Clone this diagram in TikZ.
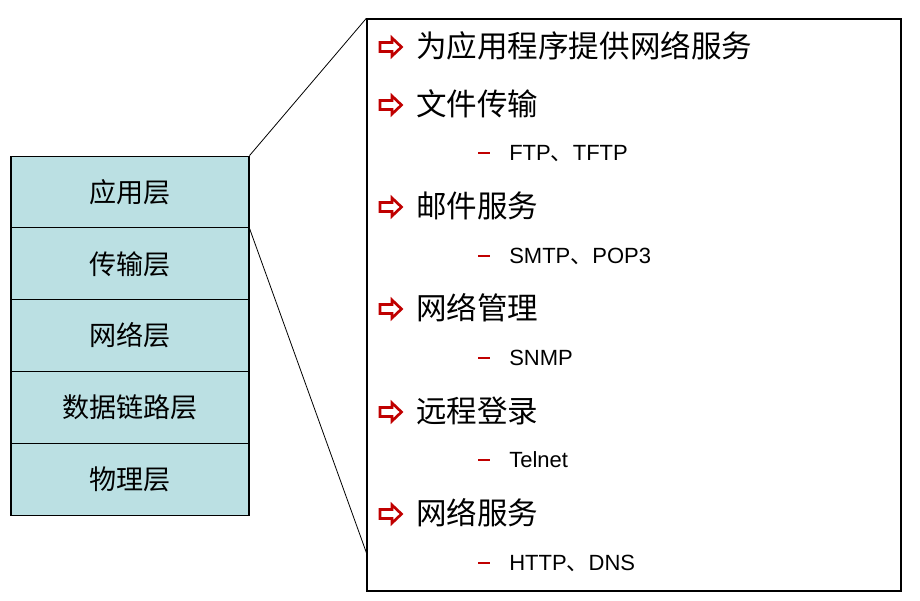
\documentclass[tikz,border=0pt]{standalone}
\usepackage{fontspec}
\setmainfont{Liberation Sans}
\newfontfamily\cjk{Noto Sans CJK SC}
\definecolor{layerfill}{RGB}{187,224,227}
\definecolor{bulletred}{RGB}{192,0,0}
\tikzset{
  layerbox/.style={draw=black, line width=0.8pt, fill=layerfill, minimum width=178.5pt, minimum height=53.85pt, inner sep=0pt, font=\cjk\fontsize{20.3pt}{24pt}\selectfont},
  mainitem/.style={anchor=base west, inner sep=0pt, font=\cjk\fontsize{22.9pt}{27pt}\selectfont},
  subitem/.style={anchor=base west, inner sep=0pt, font=\fontsize{16.5pt}{19pt}\selectfont},
  zoomline/.style={draw=black, line width=0.6pt},
  rarrow/.pic={\draw[bulletred, line width=2pt, fill=white, line join=miter, miter limit=3]
      (-11,-4.5) -- (1,-4.5) -- (1,-9) -- (10.5,0) -- (1,9) -- (1,4.5) -- (-11,4.5) -- cycle;},
  rdash/.pic={\draw[bulletred, line width=1.6pt] (-6,0) -- (6,0);}
}
\begin{document}
\begin{tikzpicture}[x=0.75pt, y=-0.75pt]
\useasboundingbox (0,0) rectangle (920,600);
% layer stack
\node[layerbox] (app) at (130,192) {应用层};
\node[layerbox] (trans) at (130,263.8) {传输层};
\node[layerbox] (net) at (130,335.6) {网络层};
\node[layerbox] (link) at (130,407.4) {数据链路层};
\node[layerbox] (phy) at (130,479.2) {物理层};
% detail box
\node[draw=black, line width=1pt, minimum width=400.5pt, minimum height=429pt, inner sep=0pt] (box) at (634,305) {};
\coordinate (zoomend) at (366.5,553);
\draw[zoomline] (app.north east) -- (box.north west);
\draw[zoomline] (app.south east) -- (zoomend);
% main items
\pic at (391,47) {rarrow};
\node[mainitem] (i1) at (416,57.5) {为应用程序提供网络服务};
\pic at (391,105) {rarrow};
\node[mainitem] (i2) at (416,115.5) {文件传输};
\pic at (484,153) {rdash};
\node[subitem] (s1) at (509,160.9) {FTP{\cjk 、}TFTP};
\pic at (391,207) {rarrow};
\node[mainitem] (i3) at (416,217.5) {邮件服务};
\pic at (484,256) {rdash};
\node[subitem] (s2) at (509,263.9) {SMTP{\cjk 、}POP3};
\pic at (391,309) {rarrow};
\node[mainitem] (i4) at (416,319.5) {网络管理};
\pic at (484,358) {rdash};
\node[subitem] (s3) at (509,365.9) {SNMP};
\pic at (391,412) {rarrow};
\node[mainitem] (i5) at (416,422.5) {远程登录};
\pic at (484,460) {rdash};
\node[subitem] (s4) at (509,467.9) {Telnet};
\pic at (391,514) {rarrow};
\node[mainitem] (i6) at (416,524.5) {网络服务};
\pic at (484,563) {rdash};
\node[subitem] (s5) at (509,570.9) {HTTP{\cjk 、}DNS};
\end{tikzpicture}
\end{document}
